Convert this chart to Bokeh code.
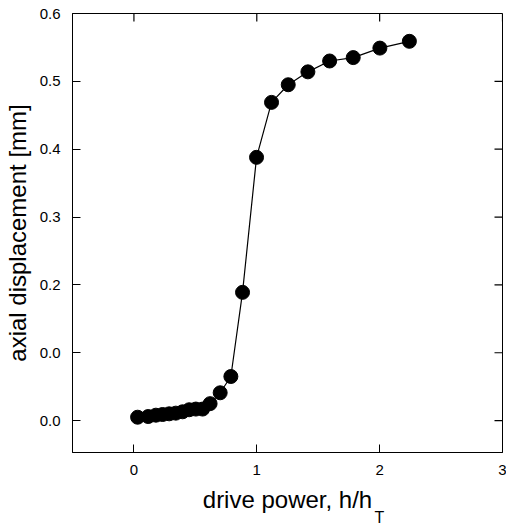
import math
from bokeh.plotting import figure
from bokeh.models import Range1d, LinearAxis, FixedTicker, Title
from bokeh.embed import file_html
from bokeh.resources import INLINE

# data
drive_power = [0.03, 0.116, 0.179, 0.233, 0.287, 0.341, 0.396, 0.450, 0.504, 0.559,
               0.620, 0.702, 0.789, 0.884, 0.998, 1.120, 1.256, 1.416, 1.593, 1.785,
               2.002, 2.242]
axial_disp = [0.005, 0.006, 0.008, 0.009, 0.010, 0.011, 0.013, 0.016, 0.017, 0.017,
              0.025, 0.041, 0.065, 0.189, 0.388, 0.469, 0.495, 0.514, 0.530, 0.535,
              0.549, 0.559]

x_ticks = [0, 1, 2, 3]
x_tick_labels = ["0", "1", "2", "3"]
y_ticks = [0.0, 0.1, 0.2, 0.3, 0.4, 0.5, 0.6]
y_tick_labels = ["0.0", "0.0", "0.2", "0.3", "0.4", "0.5", "0.6"]

X_MIN, X_MAX = -0.5, 3.0
Y_MIN, Y_MAX = -0.047, 0.6

FONT = "Liberation Sans"

p = figure(width=506, height=525, output_backend="svg", toolbar_location=None,
           x_range=Range1d(X_MIN, X_MAX), y_range=Range1d(Y_MIN, Y_MAX),
           x_axis_location=None, y_axis_location=None,
           min_border_left=71, min_border_right=4, min_border_top=13, min_border_bottom=73)
p.grid.visible = False
p.outline_line_color = "black"
p.outline_line_width = 1
p.background_fill_color = "white"
p.border_fill_color = "white"

def make_axis(ticks, labels):
    ax = LinearAxis(ticker=FixedTicker(ticks=ticks, minor_ticks=[]))
    ax.major_label_overrides = {t: l for t, l in zip(ticks, labels)}
    ax.major_tick_in = 8
    ax.major_tick_out = 0
    ax.minor_tick_in = 0
    ax.minor_tick_out = 0
    ax.axis_line_color = "black"
    ax.major_tick_line_color = "black"
    ax.major_label_text_font = FONT
    ax.major_label_text_color = "black"
    ax.major_label_text_font_size = "15px"
    ax.axis_label_text_font = FONT
    ax.axis_label_text_font_size = "24px"
    ax.axis_label_text_font_style = "normal"
    ax.axis_label_text_color = "black"
    return ax

left = make_axis(y_ticks, y_tick_labels)
left.major_label_standoff = 12
left.axis_label = "axial displacement [mm]"
left.axis_label_standoff = 6
p.add_layout(left, "left")

bottom = make_axis(x_ticks, x_tick_labels)
bottom.major_label_standoff = 12
bottom.axis_label = "drive power, h/h"
bottom.axis_label_standoff = 8
p.add_layout(bottom, "below")

# subscript of the x-axis title
sub = Title(text="T", align="left", offset=302, standoff=-21,
            text_font=FONT, text_font_size="16px", text_font_style="normal",
            text_color="black")
p.add_layout(sub, "below")

# inward ticks on the top and right frame edges
p.ray(x=x_ticks, y=[Y_MAX] * len(x_ticks), length=8, length_units="screen",
      angle=-math.pi / 2, line_color="black", line_width=1.2)
p.ray(x=[X_MAX] * len(y_ticks), y=y_ticks, length=8, length_units="screen",
      angle=math.pi, line_color="black", line_width=1.2)

p.line(drive_power, axial_disp, line_color="black", line_width=1.2)
p.scatter(drive_power, axial_disp, size=14, fill_color="black", line_color="black")

open("out.html", "w").write(file_html(p, INLINE))
